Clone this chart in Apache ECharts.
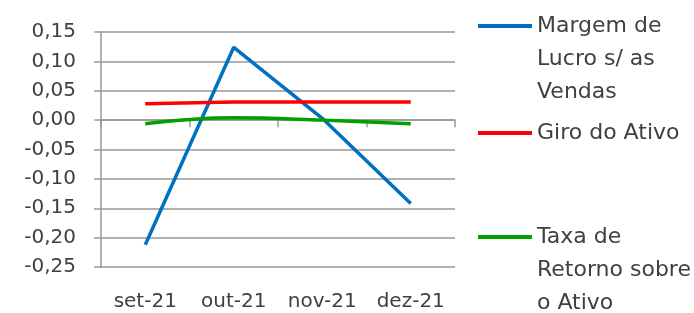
<!DOCTYPE html>
<html lang="pt">

<head>
    <meta charset="UTF-8">
    <title>Indicadores</title>
    <script src="https://cdnjs.cloudflare.com/ajax/libs/echarts/6.0.0/echarts.min.js"></script>
    <style>
        html, body { margin: 0; padding: 0; background: #fff; }
        #main { width: 694px; height: 313px; }
    </style>
</head>

<body>
    <div id="main"></div>

    <script>
        // dados
        const meses = ['set-21', 'out-21', 'nov-21', 'dez-21'];
        const margem = [-0.212, 0.124, 0.003, -0.142];
        const giro = [0.028, 0.031, 0.031, 0.031];
        const taxa = [-0.006, 0.004, 0.000, -0.006];

        const nomes = ['Margem de Lucro s/ as Vendas', 'Giro do Ativo', 'Taxa de Retorno sobre o Ativo'];
        // duas linhas vazias antes: o bloco fica centrado na primeira linha, junto do ícone
        const quebras = {
            'Margem de Lucro s/ as Vendas': '\n\nMargem de\nLucro s/ as\nVendas',
            'Giro do Ativo': 'Giro do Ativo',
            'Taxa de Retorno sobre o Ativo': '\n\nTaxa de\nRetorno sobre\no Ativo'
        };

        const fonte = 'DejaVu Sans';
        const corTexto = '#404040';
        const corGrade = '#999999';
        const alturaLinha = 33;

        const chart = echarts.init(document.getElementById('main'));

        function legenda(nome, centro, linhas) {
            return {
                data: [nome],
                left: 478,
                top: centro - linhas * alturaLinha / 2,
                padding: 0,
                icon: 'rect',
                itemWidth: 54,
                itemHeight: 4,
                itemGap: 0,
                selectedMode: false,
                formatter: (n) => quebras[n],
                textStyle: {
                    fontFamily: fonte,
                    fontSize: 22,
                    color: corTexto,
                    lineHeight: alturaLinha
                }
            };
        }

        const option = {
            animation: false,
            grid: { left: 101, top: 32, right: 239, bottom: 46 },
            legend: [
                legenda(nomes[0], 26, 5),
                legenda(nomes[1], 133, 1),
                legenda(nomes[2], 237, 5)
            ],
            xAxis: [
                {
                    type: 'category',
                    data: meses,
                    position: 'bottom',
                    axisLine: { show: false, onZero: false },
                    axisTick: { show: false },
                    axisLabel: { interval: 0, fontFamily: fonte, fontSize: 20, color: corTexto, margin: 25 }
                },
                {
                    type: 'category',
                    data: meses,
                    axisLine: { onZero: true, lineStyle: { color: corGrade, width: 1.5 } },
                    axisTick: { show: true, inside: true, length: 7, lineStyle: { color: corGrade, width: 1.5 } },
                    axisLabel: { show: false }
                }
            ],
            yAxis: {
                type: 'value',
                min: -0.25,
                max: 0.15,
                interval: 0.05,
                axisLine: { show: true, lineStyle: { color: corGrade, width: 1.5 } },
                axisTick: { show: true, length: 7, lineStyle: { color: corGrade, width: 1.5 } },
                splitLine: { lineStyle: { color: corGrade, width: 1.5 } },
                axisLabel: {
                    fontFamily: fonte,
                    fontSize: 20,
                    color: corTexto,
                    margin: 25,
                    formatter: (v) => v.toFixed(2).replace('.', ',')
                }
            },
            series: [
                {
                    name: nomes[0],
                    type: 'line',
                    data: margem,
                    symbol: 'none',
                    lineStyle: { color: '#0070C0', width: 3.5 },
                    itemStyle: { color: '#0070C0' }
                },
                {
                    name: nomes[1],
                    type: 'line',
                    data: giro,
                    symbol: 'none',
                    lineStyle: { color: '#FF0000', width: 3.5 },
                    itemStyle: { color: '#FF0000' }
                },
                {
                    name: nomes[2],
                    type: 'line',
                    data: taxa,
                    symbol: 'none',
                    smooth: 0.4,
                    lineStyle: { color: '#00A000', width: 3.5 },
                    itemStyle: { color: '#00A000' }
                }
            ]
        };

        chart.setOption(option);
    </script>
</body>

</html>
